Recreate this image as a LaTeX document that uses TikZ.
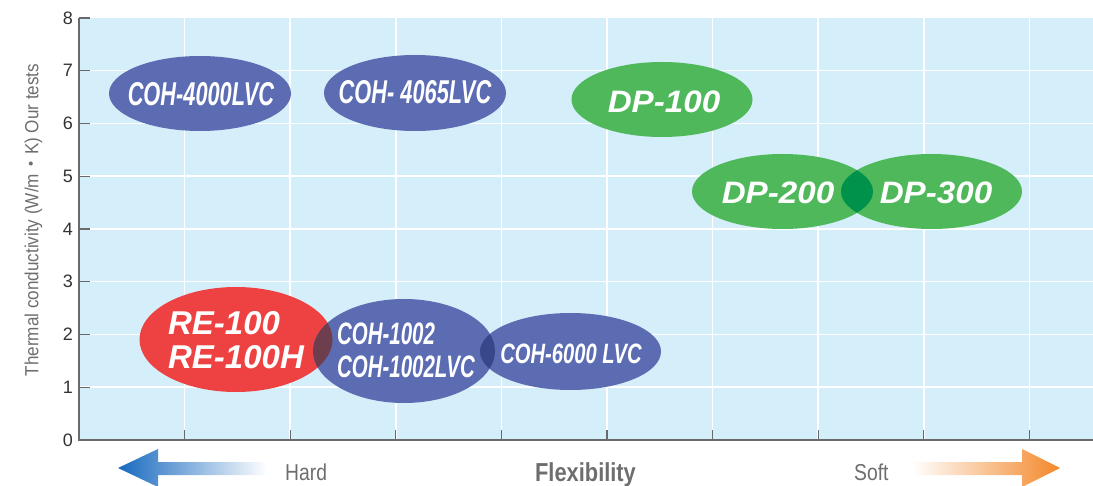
\documentclass[tikz,border=0pt]{standalone}
\usepackage{fontspec}
\setmainfont{Liberation Sans}
\newfontfamily\cohfont[FakeStretch=0.66]{Liberation Sans}
\newfontfamily\cohwide[FakeStretch=0.72]{Liberation Sans}
\newfontfamily\dpfont[FakeStretch=1.07]{Liberation Sans}
\newfontfamily\grayfont[FakeStretch=0.84]{Liberation Sans}
\newfontfamily\labfont[FakeStretch=0.9]{Liberation Sans}
\newfontfamily\cjk{Noto Sans CJK JP}
\usetikzlibrary{shapes.geometric}
\definecolor{plotbg}{HTML}{D4EEFA}
\definecolor{cohblue}{HTML}{5C6CB3}
\definecolor{rered}{HTML}{EE4242}
\definecolor{dpgreen}{HTML}{4FB85B}
\definecolor{ovgreen}{HTML}{00914B}
\definecolor{ovred}{HTML}{6E3E4E}
\definecolor{ovblue}{HTML}{38468A}
\definecolor{axisgray}{HTML}{6A6A6A}
\definecolor{txtgray}{HTML}{6E6E6E}
\definecolor{arrblue}{HTML}{1769BF}
\definecolor{arrorange}{HTML}{F2882A}
\tikzset{
  blob/.style={ellipse, inner sep=0pt, draw=none},
  cohtxt/.style={text=white, inner sep=0pt, font=\cohfont\bfseries\itshape\fontsize{33}{33}\selectfont},
  dptxt/.style={text=white, inner sep=0pt, font=\dpfont\bfseries\itshape\fontsize{31}{31}\selectfont},
  retxt/.style={text=white, inner sep=0pt, align=left, font=\bfseries\itshape\fontsize{33}{34}\selectfont},
  ticknum/.style={anchor=east, inner sep=0pt, text=black!80, font=\fontsize{18}{18}\selectfont},
  gridline/.style={white, line width=1.5pt},
  axisline/.style={axisgray, line width=1.5pt},
  tickline/.style={axisgray, line width=1.2pt},
  graytxt/.style={text=txtgray, inner sep=0pt, font=\grayfont\fontsize{23}{23}\selectfont}
}
\begin{document}
\begin{tikzpicture}[x=1pt, y=-1pt]
\useasboundingbox (0,0) rectangle (1093,486);
% plot background
\fill[plotbg] (79,18) rectangle (1093,440);
% grid
\foreach \k in {1,...,7} {
  \draw[gridline] (79,{440-52.75*\k}) -- (1093,{440-52.75*\k});
}
\foreach \k in {1,...,9} {
  \draw[gridline] ({79+105.6*\k},18) -- ({79+105.6*\k},440);
  \draw[tickline] ({79+105.6*\k},430) -- ({79+105.6*\k},440);
}
\foreach \k in {0,...,8} {
  \draw[tickline] (79,{440-52.75*\k}) -- (90,{440-52.75*\k});
  \node[ticknum] (n\k) at (73,{440-52.75*\k}) {\k};
}
% axes
\draw[axisline] (79,18) -- (79,440) -- (1093,440);
% y label
\node[rotate=90, text=txtgray, inner sep=0pt, font=\labfont\fontsize{19}{19}\selectfont] (ylab) at (33.5,220)
  {Thermal conductivity (W/m{\cjk ・}K) Our tests};

% ellipses
\node[blob, fill=cohblue, minimum width=182pt, minimum height=75pt] (e1) at (200,93.5) {};
\node[blob, fill=cohblue, minimum width=182pt, minimum height=76pt] (e2) at (415,93) {};
\node[blob, fill=dpgreen, minimum width=181pt, minimum height=75pt] (e3) at (662,99.5) {};
\node[blob, fill=dpgreen, minimum width=181pt, minimum height=75pt] (e4) at (782.5,191.5) {};
\node[blob, fill=dpgreen, minimum width=181pt, minimum height=75pt] (e5) at (931.5,191.5) {};
\node[blob, fill=rered, minimum width=193pt, minimum height=105pt] (e6) at (236,339.5) {};
\node[blob, fill=cohblue, minimum width=182pt, minimum height=104pt] (e7) at (404,351) {};
\node[blob, fill=cohblue, minimum width=181pt, minimum height=77pt] (e8) at (570.5,351.5) {};
% overlaps
\begin{scope}
  \clip (e4.center) ellipse [x radius=90.5pt, y radius=37.5pt];
  \fill[ovgreen] (e5.center) ellipse [x radius=90.5pt, y radius=37.5pt];
\end{scope}
\begin{scope}
  \clip (e6.center) ellipse [x radius=96.5pt, y radius=52.5pt];
  \fill[ovred] (e7.center) ellipse [x radius=91pt, y radius=52pt];
\end{scope}
\begin{scope}
  \clip (e7.center) ellipse [x radius=91pt, y radius=52pt];
  \fill[ovblue] (e8.center) ellipse [x radius=90.5pt, y radius=38.5pt];
\end{scope}
% labels
\node[cohtxt] (t1) at (201,94.5) {COH-4000LVC};
\node[cohtxt] (t2) at (415,92) {COH- 4065LVC};
\node[dptxt] (t3) at (664,102) {DP-100};
\node[dptxt] (t4) at (778,193) {DP-200};
\node[dptxt] (t5) at (936,193) {DP-300};
\node[retxt] (t6) at (236,340) {RE-100\\RE-100H};
\node[cohtxt, align=left, font=\cohfont\bfseries\itshape\fontsize{31}{33}\selectfont] (t7) at (406,350.5) {COH-1002\\COH-1002LVC};
\node[cohtxt, font=\cohwide\bfseries\itshape\fontsize{28}{28}\selectfont] (t8) at (571,354) {COH-6000 LVC};

% bottom arrows and captions
\shade[left color=arrblue, right color=white]
  (118,468) -- (158,449) -- (158,462) -- (267,462) -- (267,475) -- (158,475) -- (158,487) -- cycle;
\shade[left color=white, right color=arrorange]
  (1060,468) -- (1022,449) -- (1022,462) -- (912,462) -- (912,475) -- (1022,475) -- (1022,487) -- cycle;
\node[graytxt, anchor=base west] (hard) at (285,480) {Hard};
\node[graytxt, anchor=base west] (soft) at (854,480) {Soft};
\node[graytxt, anchor=base, font=\grayfont\bfseries\fontsize{26}{26}\selectfont] (flex) at (585.5,481) {Flexibility};
\end{tikzpicture}
\end{document}
